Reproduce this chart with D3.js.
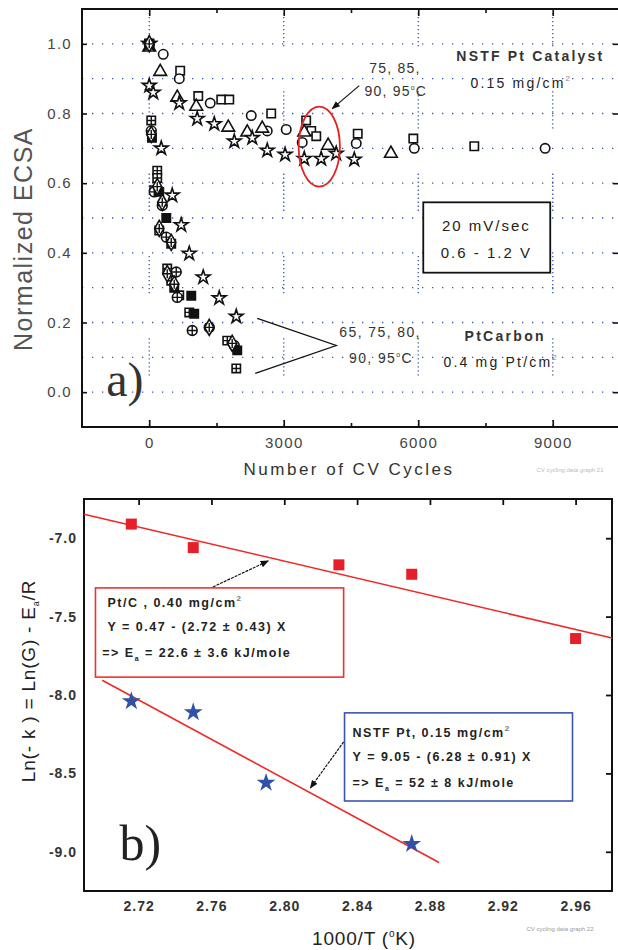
<!DOCTYPE html>
<html>
<head>
<meta charset="utf-8">
<script src="https://cdn.jsdelivr.net/npm/d3@7"></script>
<style>
  body { margin: 0; background: #fff; }
  text { font-family: "Liberation Sans", Arial, sans-serif; }
</style>
</head>
<body>
<svg id="chart" width="618" height="950"></svg>
<script>
/// DATA (a) : [cycles, normalized ECSA] ///
const nstfSquare = [[0,1.0],[690,0.923],[1093,0.85],[1606,0.84],[1785,0.84],[2720,0.80],[3500,0.78],[3613,0.75],[3725,0.735],[4650,0.742],[5890,0.728],[7250,0.706]];
const nstfCircle = [[0,1.0],[312,0.97],[670,0.90],[1360,0.83],[2275,0.794],[2632,0.75],[3055,0.754],[3412,0.717],[4617,0.714],[5912,0.70],[8830,0.70]];
const nstfTriangle = [[0,0.99],[245,0.92],[625,0.846],[1048,0.82],[1763,0.76],[2186,0.746],[2520,0.757],[3457,0.746],[3990,0.708],[5390,0.685]];
const nstfStar = [[0,1.0],[670,0.83],[1070,0.785],[1450,0.77],[1897,0.72],[2298,0.73],[2632,0.694],[3030,0.682],[3457,0.67],[3835,0.67],[4170,0.685],[4573,0.668]];

const ptcStar = [[0,1.0],[0,0.88],[89,0.86],[268,0.70],[513,0.565],[713,0.48],[892,0.398],[1204,0.33],[1561,0.27],[1941,0.217]];
const ptcSquareX = [[0,1.0],[45,0.78],[178,0.636],[178,0.615],[112,0.58],[223,0.464],[401,0.355],[490,0.32],[669,0.278],[892,0.229],[1740,0.148],[1941,0.068]];
const ptcCircleX = [[0,1.0],[45,0.75],[112,0.575],[290,0.536],[380,0.445],[602,0.345],[625,0.272],[959,0.177],[1338,0.186],[1896,0.134]];
const ptcFilled = [[0,1.0],[60,0.73],[223,0.575],[380,0.50],[490,0.426],[557,0.30],[937,0.277],[1003,0.225],[1963,0.12]];
const ptcDiamondX = [[0,1.0],[45,0.74],[178,0.59],[290,0.545],[223,0.47],[490,0.43],[401,0.34],[557,0.31],[1338,0.186],[1850,0.14]];

const xTicksA = [0, 3000, 6000, 9000];
const yTicksA = [0.0, 0.2, 0.4, 0.6, 0.8, 1.0];

/// DATA (b) : 1000/T vs Ln(-k) ///
const ptcX = [2.716, 2.750, 2.830, 2.870, 2.960];
const ptcY = [-6.91, -7.06, -7.17, -7.23, -7.64];
const nstfX = [2.716, 2.750, 2.790, 2.870];
const nstfY = [-8.04, -8.11, -8.56, -8.95];
const ptcFit = [[2.69, -6.847], [2.98, -7.636]];
const nstfFit = [[2.70, -7.906], [2.885, -9.068]];

const xTicksB = [2.72, 2.76, 2.80, 2.84, 2.88, 2.92, 2.96];
const yTicksB = [-9.0, -8.5, -8.0, -7.5, -7.0];

const svg = d3.select("#chart");
const hyphen = f => d => d3.format(f)(d).replace("\u2212", "-");

svg.append("defs").append("marker")
  .attr("id", "arr")
  .attr("viewBox", "0 0 10 10")
  .attr("refX", 9).attr("refY", 5)
  .attr("markerWidth", 7).attr("markerHeight", 7)
  .attr("orient", "auto")
  .append("path").attr("d", "M0,1 L10,5 L0,9 z").attr("fill", "#111");

/// PANEL A ///
const xa = d3.scaleLinear().domain([-1500, 10500]).range([82, 620]);
const ya = d3.scaleLinear().domain([-0.1, 1.1]).range([427, 9]);

const ga = svg.append("g");

// grid (dotted, broken like the original)
const gridCol = "#3a58b0";
ga.selectAll(".hg").data(d3.range(0, 1.01, 0.1)).enter().append("line")
  .attr("x1", xa(-1500)).attr("x2", xa(10500))
  .attr("y1", d => ya(d)).attr("y2", d => ya(d))
  .attr("stroke", gridCol).attr("stroke-width", 1.3)
  .attr("stroke-dasharray", "1.3 8.7");
ga.selectAll(".vg").data(xTicksA).enter().append("line")
  .attr("x1", d => xa(d)).attr("x2", d => xa(d))
  .attr("y1", ya(1.1)).attr("y2", ya(-0.1))
  .attr("stroke", gridCol).attr("stroke-width", 1.3)
  .attr("stroke-dasharray", "1.3 2.7 1.3 2.7 1.3 2.7 1.3 2.7 1.3 2.7 1.3 2.7 1.3 2.7 1.3 2.7 1.3 2.7 1.3 45");

// axes (ticks inward)
ga.append("g").attr("transform", `translate(0,${ya(-0.1)})`)
  .call(d3.axisBottom(xa).tickValues(xTicksA).tickSize(-7).tickPadding(10).tickFormat(d3.format("d")))
  .call(g => g.select(".domain").remove());
ga.append("g").attr("transform", `translate(0,${ya(-0.1)})`)
  .call(d3.axisBottom(xa).tickValues([1500, 4500, 7500]).tickSize(-4).tickFormat(""))
  .call(g => g.select(".domain").remove());
ga.append("g").attr("transform", `translate(0,${ya(1.1)})`)
  .call(d3.axisTop(xa).tickValues(xTicksA).tickSize(-7).tickFormat(""))
  .call(g => g.select(".domain").remove());
ga.append("g").attr("transform", `translate(0,${ya(1.1)})`)
  .call(d3.axisTop(xa).tickValues([1500, 4500, 7500]).tickSize(-4).tickFormat(""))
  .call(g => g.select(".domain").remove());
ga.append("g").attr("transform", `translate(${xa(-1500)},0)`)
  .call(d3.axisLeft(ya).tickValues(yTicksA).tickSize(-5).tickPadding(10).tickFormat(d3.format(".1f")))
  .call(g => g.select(".domain").remove());
ga.append("g").attr("transform", `translate(${xa(10500) - 1},0)`)
  .call(d3.axisRight(ya).tickValues(yTicksA).tickSize(-6).tickFormat(""))
  .call(g => g.select(".domain").remove());
ga.selectAll(".tick line").attr("stroke", "#111").attr("stroke-width", 1.6);
ga.selectAll(".tick text").attr("fill", "#444").attr("letter-spacing", 1.3).style("font-size", "15px")
  .style("font-family", "\"Liberation Sans\", Arial, sans-serif");

ga.append("rect")
  .attr("x", xa(-1500)).attr("y", ya(1.1))
  .attr("width", xa(10500) - xa(-1500)).attr("height", ya(-0.1) - ya(1.1))
  .attr("fill", "none").attr("stroke", "#111").attr("stroke-width", 2);

// markers
const sym = (type, size) => d3.symbol().type(type).size(size)();
const series = [
  { data: nstfSquare, path: sym(d3.symbolSquare, 70), fill: "#fff", cross: null },
  { data: nstfCircle, path: sym(d3.symbolCircle, 70), fill: "#fff", cross: null },
  { data: nstfTriangle, path: sym(d3.symbolTriangle, 70), fill: "#fff", cross: null },
  { data: nstfStar, path: sym(d3.symbolStar, 58), fill: "#fff", cross: null },
  { data: ptcStar, path: sym(d3.symbolStar, 58), fill: "#fff", cross: null },
  { data: ptcSquareX, path: sym(d3.symbolSquare, 70), fill: "#fff", cross: "M-4.2,0H4.2M0,-4.2V4.2" },
  { data: ptcCircleX, path: sym(d3.symbolCircle, 75), fill: "#fff", cross: "M-4.9,0H4.9M0,-4.9V4.9" },
  { data: ptcFilled, path: sym(d3.symbolSquare, 70), fill: "#111", cross: null },
  { data: ptcDiamondX, path: sym(d3.symbolDiamond, 75), fill: "#fff", cross: "M-4.5,0H4.5M0,-4.5V4.5" }
];
series.forEach(s => {
  const m = ga.append("g").selectAll("g").data(s.data).enter().append("g")
    .attr("transform", d => `translate(${xa(d[0])},${ya(d[1])})`);
  m.append("path").attr("d", s.path)
    .attr("fill", s.fill).attr("stroke", "#111").attr("stroke-width", 1.6);
  if (s.cross) m.append("path").attr("d", s.cross).attr("stroke", "#111").attr("stroke-width", 1.4);
});

// annotations
const txt = (g, x, y, size, anchor) => g.append("text")
  .attr("x", x).attr("y", y).attr("text-anchor", anchor || "middle")
  .attr("fill", "#222").style("font-size", size + "px");

txt(ga, xa(8500), ya(0.952), 14).attr("letter-spacing", 2.2).style("font-weight", "bold").attr("fill", "#333")
  .text("NSTF Pt Catalyst");
const t015 = txt(ga, xa(8300), ya(0.872), 14).attr("letter-spacing", 2.2);
t015.append("tspan").text("0.15 mg/cm");
t015.append("tspan").attr("dy", -7).style("font-size", "8px").attr("fill", "#888").text("2");

txt(ga, xa(5480), ya(0.915), 14).attr("letter-spacing", 1.2).attr("fill", "#333").text("75, 85,");
const t9095a = txt(ga, xa(5500), ya(0.849), 14).attr("letter-spacing", 1.2).attr("fill", "#333");
t9095a.append("tspan").text("90, 95");
t9095a.append("tspan").attr("dy", -6).style("font-size", "7px").text("o");
t9095a.append("tspan").attr("dy", 6).text("C");

ga.append("line")
  .attr("x1", xa(4684)).attr("y1", ya(0.880)).attr("x2", xa(4082)).attr("y2", ya(0.814))
  .attr("stroke", "#111").attr("stroke-width", 1.2).attr("marker-end", "url(#arr)");

ga.append("ellipse")
  .attr("cx", xa(3792)).attr("cy", ya(0.705))
  .attr("rx", xa(3792 + 460) - xa(3792)).attr("ry", ya(0.705 - 0.115) - ya(0.705))
  .attr("fill", "none").attr("stroke", "#e52222").attr("stroke-width", 1.8);

ga.append("rect")
  .attr("x", xa(6112)).attr("y", ya(0.545))
  .attr("width", xa(8944) - xa(6112)).attr("height", ya(0.343) - ya(0.545))
  .attr("fill", "#fff").attr("stroke", "#111").attr("stroke-width", 1.8);
txt(ga, xa(7520), ya(0.462), 15).attr("letter-spacing", 2).text("20 mV/sec");
txt(ga, xa(7520), ya(0.385), 15).attr("letter-spacing", 2).text("0.6 - 1.2 V");

txt(ga, xa(5150), ya(0.157), 14).attr("letter-spacing", 1.4).attr("fill", "#333").text("65, 75, 80,");
const t9095b = txt(ga, xa(5170), ya(0.085), 14).attr("letter-spacing", 1.4).attr("fill", "#333");
t9095b.append("tspan").text("90, 95");
t9095b.append("tspan").attr("dy", -6).style("font-size", "7px").text("o");
t9095b.append("tspan").attr("dy", 6).text("C");

ga.append("path")
  .attr("d", d3.line()([[xa(2409), ya(0.212)], [xa(4171), ya(0.134)], [xa(2364), ya(0.054)]]))
  .attr("fill", "none").attr("stroke", "#111").attr("stroke-width", 1.3);

txt(ga, xa(7940), ya(0.148), 14).attr("letter-spacing", 2.3).style("font-weight", "bold").attr("fill", "#333").text("PtCarbon");
const t04 = txt(ga, xa(7850), ya(0.071), 14).attr("letter-spacing", 2.2);
t04.append("tspan").text("0.4 mg Pt/cm");
t04.append("tspan").attr("dy", -7).style("font-size", "8px").attr("fill", "#888").text("2");

ga.append("text").attr("x", xa(-960)).attr("y", ya(-0.01))
  .style("font-family", "\"Liberation Serif\", \"Times New Roman\", serif")
  .style("font-size", "48px").attr("fill", "#333").text("a)");

// axis titles
ga.append("text")
  .attr("transform", `translate(32,239) rotate(-90)`)
  .attr("text-anchor", "middle").attr("fill", "#555")
  .attr("letter-spacing", 1.5).style("font-size", "25px")
  .text("Normalized ECSA");
ga.append("text")
  .attr("x", 349).attr("y", 475).attr("text-anchor", "middle").attr("fill", "#333")
  .attr("letter-spacing", 2.5).style("font-size", "17px")
  .text("Number of CV Cycles");
ga.append("text")
  .attr("x", 570).attr("y", 472).attr("text-anchor", "middle").attr("fill", "#bbb")
  .style("font-size", "6px").text("CV cycling data graph 21");

/// PANEL B ///
const xb = d3.scaleLinear().domain([2.69, 2.98]).range([84, 612]);
const yb = d3.scaleLinear().domain([-9.25, -6.75]).range([891, 499]);

const gb = svg.append("g");

gb.append("g").attr("transform", `translate(0,${yb(-9.25)})`)
  .call(d3.axisBottom(xb).tickValues(xTicksB).tickSize(0).tickPadding(10).tickFormat(d3.format(".2f")))
  .call(g => g.select(".domain").remove());
gb.append("g").attr("transform", `translate(0,${yb(-6.75)})`)
  .call(d3.axisTop(xb).tickValues(xTicksB).tickSize(-6).tickFormat(""))
  .call(g => g.select(".domain").remove());
gb.append("g").attr("transform", `translate(${xb(2.69)},0)`)
  .call(d3.axisLeft(yb).tickValues(yTicksB).tickSize(0).tickPadding(7).tickFormat(hyphen(".1f")))
  .call(g => g.select(".domain").remove());
gb.append("g").attr("transform", `translate(${xb(2.98)},0)`)
  .call(d3.axisRight(yb).tickValues(yTicksB).tickSize(-6).tickFormat(""))
  .call(g => g.select(".domain").remove());
gb.selectAll(".tick line").attr("stroke", "#111").attr("stroke-width", 1.8);
gb.selectAll(".tick text").attr("fill", "#333").attr("letter-spacing", 1)
  .style("font-size", "14px").style("font-weight", "bold")
  .style("font-family", "\"Liberation Sans\", Arial, sans-serif");

gb.append("rect")
  .attr("x", xb(2.69)).attr("y", yb(-6.75))
  .attr("width", xb(2.98) - xb(2.69)).attr("height", yb(-9.25) - yb(-6.75))
  .attr("fill", "none").attr("stroke", "#111").attr("stroke-width", 2);

// fit lines
const lineB = d3.line().x(d => xb(d[0])).y(d => yb(d[1]));
[ptcFit, nstfFit].forEach(f => {
  gb.append("path").attr("d", lineB(f))
    .attr("fill", "none").attr("stroke", "#f02828").attr("stroke-width", 1.6);
});

// points
gb.selectAll(".ptc").data(ptcX).enter().append("rect")
  .attr("x", d => xb(d) - 5.5).attr("y", (d, i) => yb(ptcY[i]) - 5.5)
  .attr("width", 11).attr("height", 11).attr("fill", "#e5202a");
gb.selectAll(".nstf").data(nstfX).enter().append("path")
  .attr("transform", (d, i) => `translate(${xb(d)},${yb(nstfY[i])})`)
  .attr("d", d3.symbol().type(d3.symbolStar).size(110)())
  .attr("fill", "#3150a8");

// boxes with fit results
gb.append("rect")
  .attr("x", xb(2.6963)).attr("y", yb(-7.317))
  .attr("width", xb(2.8326) - xb(2.6963)).attr("height", yb(-7.886) - yb(-7.317))
  .attr("fill", "#fff").attr("stroke", "#f03030").attr("stroke-width", 1.6);
gb.append("rect")
  .attr("x", xb(2.8331)).attr("y", yb(-8.114))
  .attr("width", xb(2.9583) - xb(2.8331)).attr("height", yb(-8.676) - yb(-8.114))
  .attr("fill", "#fff").attr("stroke", "#3a56b0").attr("stroke-width", 1.6);

const boxText = (x, y, parts) => {
  const t = gb.append("text").attr("x", xb(x)).attr("y", yb(y))
    .attr("fill", "#222").attr("letter-spacing", 1.5)
    .style("font-size", "12.5px").style("font-weight", "bold");
  parts.forEach(p => {
    const s = t.append("tspan").text(p[0]);
    if (p[1] === "sup") s.attr("dy", -6).style("font-size", "8px").attr("fill", "#777");
    if (p[1] === "sub") s.attr("dy", 4).style("font-size", "7px");
    if (p[1] === "back") s.attr("dy", -4);
  });
};
boxText(2.7029, -7.439, [["Pt/C , 0.40 mg/cm"], ["2", "sup"]]);
boxText(2.7029, -7.592, [["Y = 0.47 - (2.72 ± 0.43) X"]]);
boxText(2.7000, -7.758, [["=> E"], ["a", "sub"], [" = 22.6 ± 3.6 kJ/mole", "back"]]);
boxText(2.8375, -8.269, [["NSTF Pt, 0.15 mg/cm"], ["2", "sup"]]);
boxText(2.8375, -8.422, [["Y = 9.05 - (6.28 ± 0.91) X"]]);
boxText(2.8375, -8.589, [["=> E"], ["a", "sub"], [" = 52 ± 8 kJ/mole", "back"]]);

gb.append("line")
  .attr("x1", xb(2.7608)).attr("y1", yb(-7.311)).attr("x2", xb(2.7912)).attr("y2", yb(-7.145))
  .attr("stroke", "#111").attr("stroke-width", 1.2).attr("stroke-dasharray", "3 1")
  .attr("marker-end", "url(#arr)");
gb.append("line")
  .attr("x1", xb(2.8326)).attr("y1", yb(-8.299)).attr("x2", xb(2.8143)).attr("y2", yb(-8.593))
  .attr("stroke", "#111").attr("stroke-width", 1.2).attr("stroke-dasharray", "3 1")
  .attr("marker-end", "url(#arr)");

gb.append("text").attr("x", xb(2.7095)).attr("y", yb(-9.05))
  .style("font-family", "\"Liberation Serif\", \"Times New Roman\", serif")
  .style("font-size", "50px").attr("fill", "#222").text("b)");

// axis titles
const yl = gb.append("text")
  .attr("transform", `translate(35,681) rotate(-90)`)
  .attr("text-anchor", "middle").attr("fill", "#222")
  .attr("letter-spacing", 0.8).style("font-size", "19px");
yl.append("tspan").text("Ln(- k ) = Ln(G) - E");
yl.append("tspan").attr("dy", 4).style("font-size", "9px").text("a");
yl.append("tspan").attr("dy", -4).text("/R");

const xl = gb.append("text")
  .attr("x", 364).attr("y", 945).attr("text-anchor", "middle").attr("fill", "#222")
  .attr("letter-spacing", 0.8).style("font-size", "19px");
xl.append("tspan").text("1000/T (");
xl.append("tspan").attr("dy", -8).style("font-size", "10px").text("o");
xl.append("tspan").attr("dy", 8).text("K)");

gb.append("text")
  .attr("x", 560).attr("y", 931).attr("text-anchor", "middle").attr("fill", "#999")
  .style("font-size", "6px").text("CV cycling data graph 22");
</script>
</body>
</html>
